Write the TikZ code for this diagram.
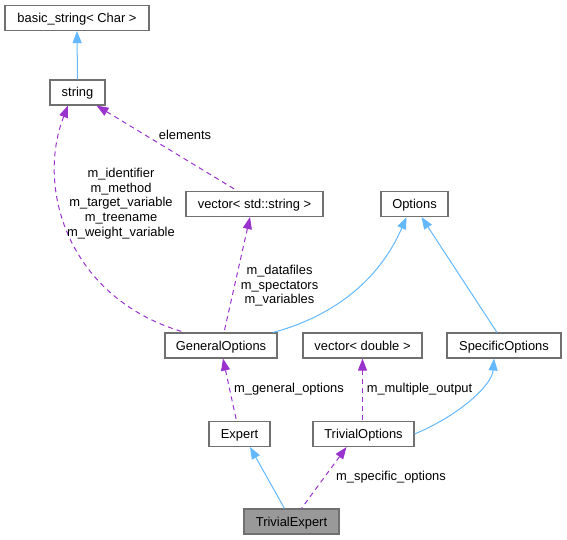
\documentclass[tikz,border=0pt]{standalone}
\usepackage{fontspec}
\setmainfont{Liberation Sans}
\usetikzlibrary{arrows.meta,calc}

\definecolor{inhblue}{HTML}{63B8FF}
\definecolor{mempurple}{HTML}{9A32CD}
\definecolor{boxgray}{HTML}{707070}

\begin{document}
\begin{tikzpicture}[x=1pt, y=-1pt, >={Triangle[length=12pt,width=9pt]},
  cls/.style={draw=boxgray, line width=1.1pt, minimum height=25pt, inner sep=0pt, text height=10.5pt, text depth=1.5pt, font=\fontsize{12.9}{14}\selectfont},
  inh/.style={<-, draw=inhblue, line width=1pt},
  member/.style={<-, draw=mempurple, line width=1pt, dash pattern=on 5pt off 4pt},
  lbl/.style={align=center, inner sep=0pt, font=\fontsize{12.9}{14.6}\selectfont}]
\useasboundingbox (0,0) rectangle (567,540);
% classes
\node[cls, minimum width=144pt] (basic) at (77,18) {basic\_string< Char >};
\node[cls, minimum width=55pt] (str) at (77.5,92.5) {string};
\node[cls, minimum width=137pt] (vecstr) at (254.5,204) {vector< std::string >};
\node[cls, minimum width=67pt] (opts) at (414.5,204) {Options};
\node[cls, minimum width=112pt] (genopts) at (221,345.5) {GeneralOptions};
\node[cls, minimum width=119pt] (vecdbl) at (362.5,345.5) {vector< double >};
\node[cls, minimum width=114pt] (specopts) at (504,345.5) {SpecificOptions};
\node[cls, minimum width=61pt] (expert) at (239.5,434) {Expert};
\node[cls, minimum width=101pt] (trivopts) at (363.5,434) {TrivialOptions};
\node[cls, minimum width=95pt, fill=black!40] (trivexp) at (291.5,521.5) {TrivialExpert};
% inheritance
\draw[inh] (basic.south) -- (str.north);
\draw[inh] ([xshift=-8pt]opts.south) .. controls (375,290) and (320,320) .. ([xshift=52pt]genopts.north);
\draw[inh] ([xshift=7pt]opts.south) -- ([xshift=-7pt]specopts.north);
\draw[inh] ([xshift=-10pt]specopts.south) .. controls (492,385) and (460,415) .. (trivopts.east);
\draw[inh] ([xshift=10.5pt]expert.south) -- ([xshift=-7pt]trivexp.north);
% members
\draw[member] ([xshift=19pt]str.south) -- ([xshift=-17pt]vecstr.north);
\draw[member] ([xshift=-9.5pt]str.south) .. controls (35,190) and (70,300) .. ([xshift=-36pt]genopts.north);
\draw[member] ([xshift=-4.5pt]vecstr.south) -- ([xshift=3pt]genopts.north);
\draw[member] ([xshift=2pt]genopts.south) -- ([xshift=-3pt]expert.north);
\draw[member] (vecdbl.south) -- (vecdbl.south |- trivopts.north);
\draw[member] ([xshift=-17pt]trivopts.south) -- ([xshift=10pt]trivexp.north);
% labels
\node[lbl] (lelem) at (185,135) {elements};
\node[lbl] (lstrfld) at (121,203.5) {m\_identifier\\m\_method\\m\_target\_variable\\m\_treename\\m\_weight\_variable};
\node[lbl] (lvecfld) at (279.5,286) {m\_datafiles\\m\_spectators\\m\_variables};
\node[lbl] (lgen) at (289,389) {m\_general\_options};
\node[lbl] (lmulti) at (419.5,389) {m\_multiple\_output};
\node[lbl] (lspec) at (391,477) {m\_specific\_options};
\end{tikzpicture}
\end{document}
